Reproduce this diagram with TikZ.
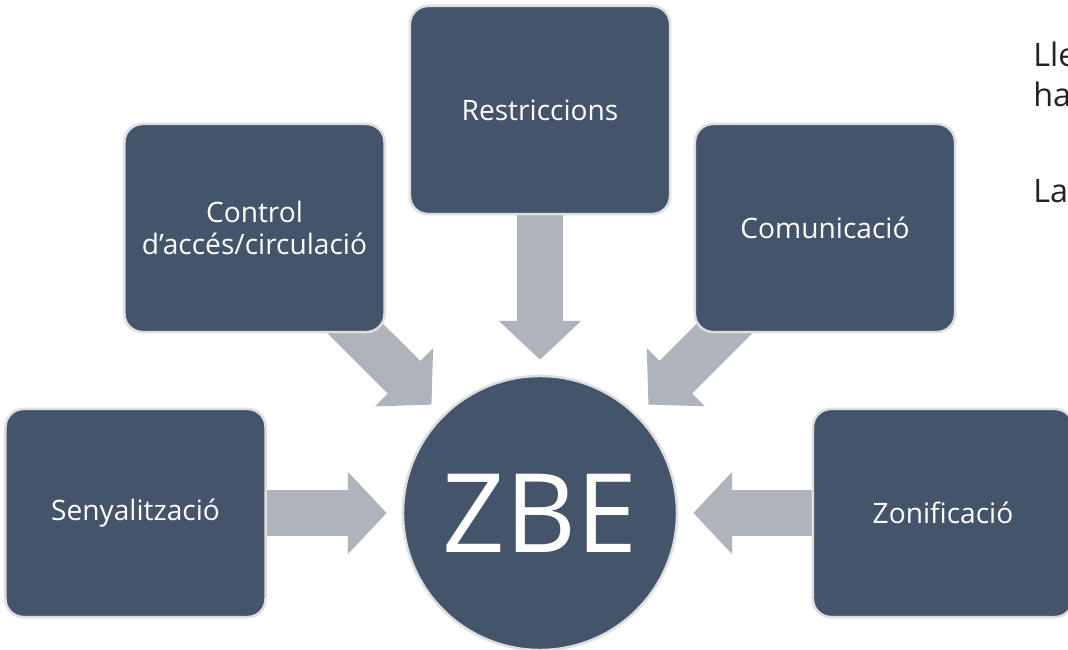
\documentclass[tikz,border=0pt]{standalone}
\usepackage{fontspec}
\setmainfont{Open Sans}
\usetikzlibrary{arrows.meta,backgrounds}
\definecolor{ZbeSlate}{HTML}{44546A}
\definecolor{ZbeEdge}{HTML}{DCDEE2}
\definecolor{ZbeArrow}{HTML}{AFB3BB}
\definecolor{ZbeInk}{HTML}{222222}

\begin{document}
\begin{tikzpicture}[
    x=0.025cm, y=-0.025cm,
    measure/.style={
        draw=ZbeEdge,
        line width=1.8pt,
        rounded corners=0.45cm,
        fill=ZbeSlate,
        minimum width=6.5cm,
        minimum height=5.2cm,
        align=center,
        text=white,
        font=\fontsize{20}{22.5}\selectfont
    },
    hub/.style={circle, draw=ZbeEdge, line width=1.8pt, fill=ZbeSlate,
                minimum size=6.85cm, inner sep=0pt, text=white,
                font=\fontsize{78}{78}\selectfont},
    feed/.style={draw=ZbeArrow, line width=1.15cm, line cap=butt,
                 -{Triangle[length=0.97cm,width=2cm]}, shorten >=0.375cm},
    side note/.style={anchor=base west, inner sep=0pt, text=ZbeInk,
                      font=\fontsize{23}{26}\selectfont}
]
    \useasboundingbox (0,0) rectangle (1068,650);

    \node[hub] (zbe) at (540,513) {ZBE};

    \node[measure] (restr) at (540,110) {Restriccions};
    \node[measure] (ctrl) at (254.5,228) {Control\\d’accés/circulació};
    \node[measure] (comm) at (825,228) {Comunicació};
    \node[measure] (sign) at (135.5,513) {Senyalització};
    \node[measure] (zone) at (943,513) {Zonificació};

    \begin{scope}[on background layer]
        \foreach \from in {restr,ctrl,comm,sign,zone}
            \draw[feed] (\from.center) -- (zbe);
    \end{scope}

    % text running off the right edge
    \node[side note] (lle) at (1033,67) {Lle};
    \node[side note] (ha) at (1033,107) {ha};
    \node[side note] (la) at (1033,203) {La};
\end{tikzpicture}
\end{document}
